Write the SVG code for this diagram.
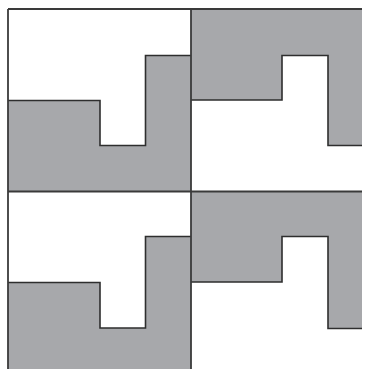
<svg xmlns="http://www.w3.org/2000/svg" width="366" height="369" viewBox="0 0 366 369">
<style>
.bg{fill:#ffffff}
.g{fill:#a7a8ab;stroke:none}
.e{fill:none;stroke:#2e2e2e;stroke-width:1.6;stroke-linejoin:miter}
.b{fill:none;stroke:#3a3a3a;stroke-width:1.8}
</style>
<rect class="bg" x="0" y="0" width="366" height="369"/>
<g id="tile-top-left">
<polygon class="g" points="8,100.5 100,100.5 100,145.5 145.5,145.5 145.5,55.5 191,55.5 191,191.5 8,191.5"/>
<polyline class="e" points="8,100.5 100,100.5 100,145.5 145.5,145.5 145.5,55.5 191,55.5"/>
</g>
<g id="tile-top-right">
<polygon class="g" points="191,9 362,9 362,145.5 328,145.5 328,55.5 282,55.5 282,100 191,100"/>
<polyline class="e" points="191,100 282,100 282,55.5 328,55.5 328,145.5 362,145.5"/>
</g>
<g id="tile-bottom-left">
<polygon class="g" points="8,282.5 100,282.5 100,328 145.5,328 145.5,236.5 191,236.5 191,369 8,369"/>
<polyline class="e" points="8,282.5 100,282.5 100,328 145.5,328 145.5,236.5 191,236.5"/>
</g>
<g id="tile-bottom-right">
<polygon class="g" points="191,191.5 362,191.5 362,328.5 328,328.5 328,236.5 282,236.5 282,282 191,282"/>
<polyline class="e" points="191,282 282,282 282,236.5 328,236.5 328,328.5 362,328.5"/>
</g>
<g id="grid">
<line class="b" x1="8" y1="9" x2="362" y2="9"/>
<line class="b" x1="8" y1="9" x2="8" y2="369"/>
<line class="b" x1="191" y1="9" x2="191" y2="369"/>
<line class="b" x1="8" y1="191.5" x2="362" y2="191.5"/>
</g>
</svg>
